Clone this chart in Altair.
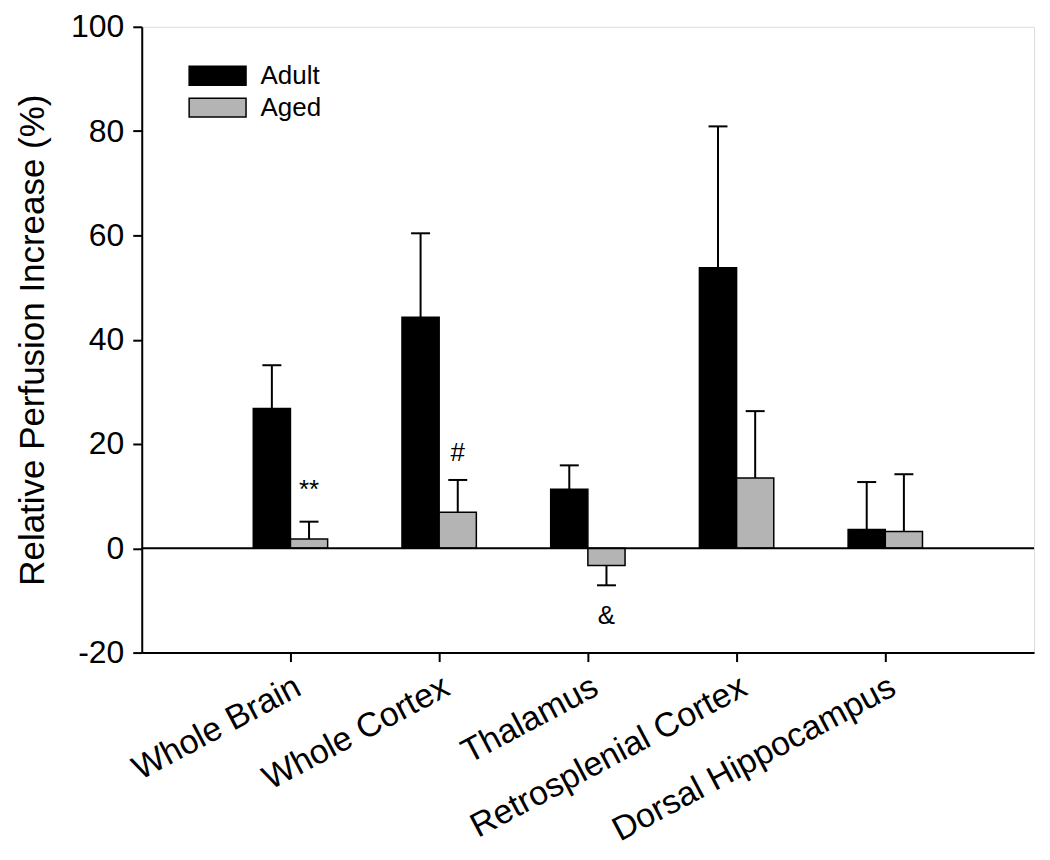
import altair as alt
import pandas as pd

categories = ["Whole Brain", "Whole Cortex", "Thalamus", "Retrosplenial Cortex", "Dorsal Hippocampus"]
groups = ["Adult", "Aged"]
adult_mean = [26.8, 44.3, 11.3, 53.8, 3.6]
adult_sem = [8.3, 16.1, 4.6, 27.1, 9.1]
aged_mean = [1.8, 6.9, -3.3, 13.5, 3.2]
aged_sem = [3.3, 6.2, 3.8, 12.8, 11.0]

annot_cat = ["Whole Brain", "Whole Cortex", "Thalamus"]
annot_group = ["Aged", "Aged", "Aged"]
annot_y = [11.2, 18.2, -12.9]
annot_text = ["**", "#", "&"]

y_ticks = [-20, 0, 20, 40, 60, 80, 100]

rows = []
for g, means, sems in [("Adult", adult_mean, adult_sem), ("Aged", aged_mean, aged_sem)]:
    for c, m, s in zip(categories, means, sems):
        end = m + s if m >= 0 else m - s
        rows.append({"category": c, "group": g, "value": m, "err_end": end})
df = pd.DataFrame(rows)
ann = pd.DataFrame({"category": annot_cat, "group": annot_group, "y": annot_y, "text": annot_text})

FONT = "Liberation Sans"

x_enc = alt.X(
    "category:N",
    sort=categories,
    scale=alt.Scale(paddingInner=0.5, paddingOuter=0.75),
    axis=alt.Axis(
        title=None,
        labelAngle=332,
        labelAlign="right",
        labelBaseline="top",
        labelFontSize=34,
        labelPadding=8,
        labelColor="black",
        labelFont=FONT,
        labelLimit=1000,
        tickSize=9,
        tickWidth=2,
        tickColor="black",
        domainColor="black",
        domainWidth=2,
        labelOverlap=False,
    ),
)
xoff = alt.XOffset("group:N", sort=groups, scale=alt.Scale(domain=groups, paddingInner=0, paddingOuter=0))
y_scale = alt.Scale(domain=[-20, 100], nice=False, zero=False)
y_axis = alt.Axis(
    title="Relative Perfusion Increase (%)",
    values=y_ticks,
    labelExpr="'' + datum.value",
    grid=False,
    labelFontSize=32,
    labelPadding=9,
    labelColor="black",
    labelFont=FONT,
    tickSize=9,
    tickWidth=2,
    tickColor="black",
    domainColor="black",
    domainWidth=2,
    titleFontSize=35,
    titleFontWeight="normal",
    titleFont=FONT,
    titleColor="black",
    titlePadding=20,
)

base = alt.Chart(df)

err_line = base.mark_rule(color="black", strokeWidth=2).encode(
    x=x_enc, xOffset=xoff, y=alt.Y("value:Q", scale=y_scale, axis=y_axis), y2="err_end:Q"
)
err_cap = base.mark_tick(color="black", thickness=2, size=19, opacity=1).encode(
    x=x_enc, xOffset=xoff, y=alt.Y("err_end:Q", scale=y_scale)
)
bars = base.mark_bar(stroke="black", strokeWidth=1.5).encode(
    x=x_enc,
    xOffset=xoff,
    y=alt.Y("value:Q", scale=y_scale, axis=y_axis),
    y2=alt.datum(0),
    color=alt.Color(
        "group:N",
        sort=groups,
        scale=alt.Scale(domain=groups, range=["#000000", "#b4b4b4"]),
        legend=alt.Legend(
            title=None,
            orient="none",
            legendX=63,
            legendY=36,
            padding=0,
            symbolType="M-3,-1H3V1H-3Z",
            symbolSize=361,
            symbolStrokeColor="black",
            symbolStrokeWidth=1.5,
            symbolOpacity=1,
            labelFontSize=26,
            labelFont=FONT,
            labelColor="black",
            labelOffset=30,
            rowPadding=6,
        ),
    ),
)
zero_line = alt.Chart(pd.DataFrame({"z": [0]})).mark_rule(color="black", strokeWidth=2).encode(
    y=alt.Y("z:Q", scale=y_scale)
)
annots = alt.Chart(ann).mark_text(fontSize=26, font=FONT, color="black", baseline="middle", align="center").encode(
    x=x_enc, xOffset=xoff, y=alt.Y("y:Q", scale=y_scale), text="text:N"
)

chart = (
    alt.layer(err_line, err_cap, bars, zero_line, annots)
    .properties(
        width=894,
        height=627,
        autosize=alt.AutoSizeParams(type="none"),
        padding={"left": 134, "top": 18, "right": 8, "bottom": 207},
    )
    .configure_view(stroke="black", strokeWidth=2)
    .configure(background="white")
)

chart.save("out.html", embed_options={"renderer": "svg", "actions": False})
